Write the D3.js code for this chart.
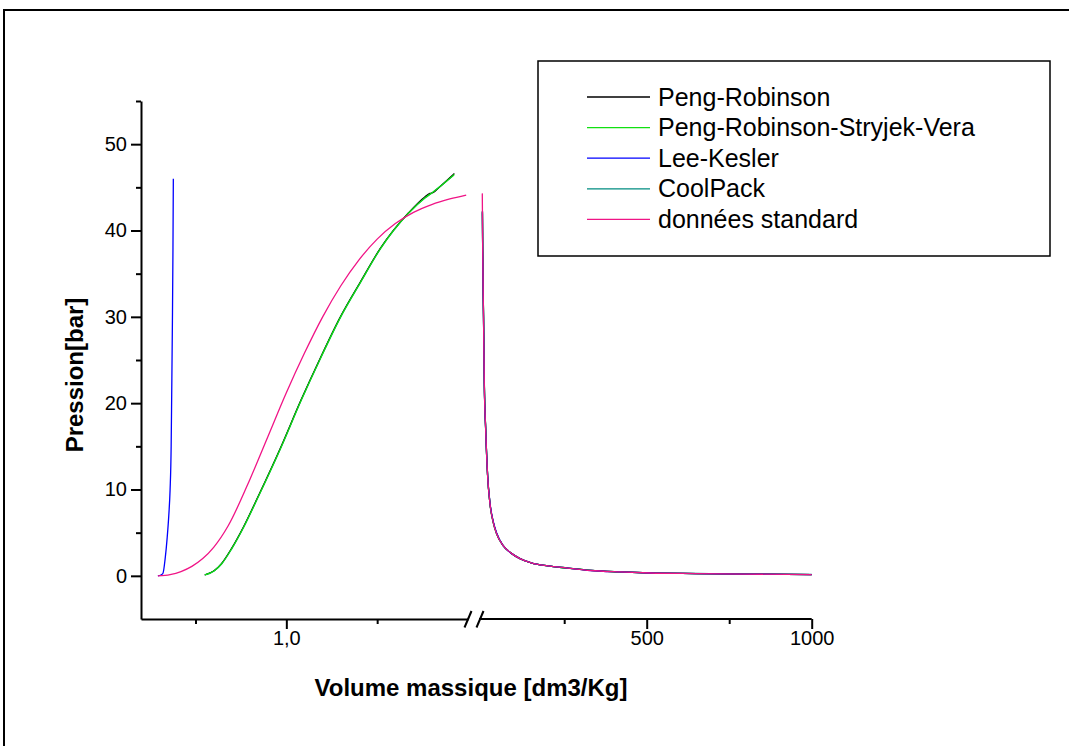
<!DOCTYPE html>
<html>
<head>
<meta charset="utf-8">
<script src="https://cdn.jsdelivr.net/npm/d3@7"></script>
<style>
  body { margin: 0; background: #fff; }
  svg { font-family: Arial, "Liberation Sans", sans-serif; }
</style>
</head>
<body>
<div id="chart"></div>
<script>
// series names + colours (legend order)
const seriesNames = ["Peng-Robinson", "Peng-Robinson-Stryjek-Vera", "Lee-Kesler", "CoolPack", "données standard"];
const seriesColors = ["#000000", "#11e011", "#0000ff", "#008b80", "#f01486"];

// liquid branch (left part of the x axis), volume in dm3/kg, pressure in bar
const prLiqV   = [0.550, 0.602, 0.642, 0.696, 0.762, 0.842, 0.969, 1.079, 1.188, 1.297, 1.406, 1.516, 1.670, 1.762, 1.79, 1.81, 1.842, 1.925];
const prLiqP   = [0.1, 0.6, 1.4, 3.1, 5.6, 9.1, 14.9, 20.3, 25.3, 30.0, 34.0, 37.9, 42.0, 43.9, 44.3, 44.4, 45.0, 46.6];
const prsvLiqV = [0.552, 0.604, 0.644, 0.698, 0.764, 0.844, 0.971, 1.081, 1.19, 1.299, 1.408, 1.518, 1.672, 1.764, 1.81, 1.846, 1.925];
const prsvLiqP = [0.1, 0.6, 1.4, 3.1, 5.6, 9.1, 14.9, 20.3, 25.3, 30.0, 34.0, 37.9, 42.0, 43.8, 44.5, 45.1, 46.5];
const cpLiqV   = [0.552, 0.604, 0.644, 0.698, 0.764, 0.844, 0.971, 1.081, 1.19, 1.299, 1.408, 1.518, 1.672, 1.764, 1.81, 1.846, 1.92];
const cpLiqP   = [0.1, 0.6, 1.4, 3.1, 5.6, 9.1, 14.9, 20.3, 25.3, 30.0, 34.0, 37.9, 42.0, 43.8, 44.5, 45.1, 46.4];
const lkLiqV   = [0.293, 0.31, 0.321, 0.333, 0.344, 0.353, 0.36, 0.366, 0.369, 0.373, 0.376, 0.378];
const lkLiqP   = [0, 0.1, 0.3, 2.0, 4.4, 7.0, 9.9, 15.0, 21.0, 29.6, 38.0, 46.0];
const stdLiqV  = [0.293, 0.36, 0.42, 0.48, 0.54, 0.60, 0.68, 0.80, 0.90, 1.00, 1.10, 1.20, 1.30, 1.40, 1.50, 1.60, 1.70, 1.80, 1.90, 1.99];
const stdLiqP  = [0, 0.15, 0.5, 1.1, 2.0, 3.3, 5.8, 11.2, 16.2, 21.2, 25.8, 30.0, 33.6, 36.6, 39.0, 40.8, 42.1, 43.0, 43.65, 44.1];

// vapour branch (right part of the x axis)
const vapV    = [1.8, 3, 5.5, 8, 12, 18, 25, 35, 45, 65, 90, 116, 150, 200, 260, 330, 420, 510, 650, 800, 1000];
const prVapP  = [42.2, 37.8, 30.2, 22.2, 17.1, 11.6, 8.4, 6.2, 4.9, 3.5, 2.6, 2.0, 1.5, 1.15, 0.9, 0.63, 0.45, 0.33, 0.26, 0.2, 0.15];
const prsvVapP = [42.2, 37.9, 30.3, 22.3, 17.1, 11.6, 8.4, 6.2, 4.9, 3.5, 2.6, 2.0, 1.5, 1.15, 0.9, 0.63, 0.45, 0.33, 0.26, 0.2, 0.15];
const lkVapP  = [42.2, 37.6, 30.0, 22.0, 17.0, 11.6, 8.5, 6.3, 5.0, 3.5, 2.6, 2.0, 1.5, 1.15, 0.9, 0.62, 0.45, 0.33, 0.26, 0.2, 0.15];
const cpVapP  = [42.0, 37.7, 30.1, 22.1, 17.0, 11.5, 8.4, 6.2, 4.9, 3.5, 2.6, 2.0, 1.5, 1.15, 0.9, 0.63, 0.46, 0.34, 0.27, 0.2, 0.16];
const stdVapP = [44.3, 38.0, 30.0, 22.0, 17.0, 11.5, 8.4, 6.2, 4.9, 3.5, 2.6, 2.0, 1.5, 1.15, 0.9, 0.62, 0.45, 0.33, 0.26, 0.2, 0.15];

// axis ticks
const yMajor = [0, 10, 20, 30, 40, 50];
const yMinor = [5, 15, 25, 35, 45, 55];
const xLeftTicks = [0.5, 1.0, 1.5];
const xLeftLabels = {1.0: "1,0"};
const xRightTicks = [250, 500, 750, 1000];
const xRightLabels = {500: "500", 1000: "1000"};

const W = 1069, H = 746;
const svg = d3.select("#chart").append("svg").attr("width", W).attr("height", H);

// outer frame
svg.append("rect").attr("x", 4).attr("y", 10).attr("width", 1100).attr("height", 800)
    .attr("fill", "none").attr("stroke", "#000").attr("stroke-width", 2);

let y = d3.scaleLinear().domain([-5, 55]).range([619, 101]);
let xL = d3.scaleLinear().domain([0.2, 2.0]).range([141, 468]);
let xR = d3.scaleLinear().domain([0, 1000]).range([481.7, 811.7]);

// y axis
let yAxisG = svg.append("g").attr("transform", "translate(141,0)");
yAxisG.call(d3.axisLeft(y).tickValues(yMajor).tickSize(10).tickSizeOuter(0).tickPadding(4));
yAxisG.append("g").call(d3.axisLeft(y).tickValues(yMinor).tickSize(5).tickFormat(""))
    .select(".domain").remove();
yAxisG.selectAll("text").style("font-size", "20px").attr("fill", "#000");
yAxisG.selectAll("line, path").attr("stroke-width", 2);

// x axis, left (liquid) part
let xLG = svg.append("g").attr("transform", "translate(0,619)");
xLG.call(d3.axisBottom(xL).tickValues(xLeftTicks).tickSizeOuter(0)
    .tickFormat(d => xLeftLabels[d] || "").tickPadding(6));
xLG.selectAll(".tick line").attr("y2", d => xLeftLabels[d] ? 10 : 5);

// x axis, right (vapour) part
let xRG = svg.append("g").attr("transform", "translate(0,619)");
xRG.call(d3.axisBottom(xR).tickValues(xRightTicks).tickSizeOuter(0)
    .tickFormat(d => xRightLabels[d] || "").tickPadding(6));
xRG.selectAll(".tick line").attr("y2", d => xRightLabels[d] ? 10 : 5);
xRG.select(".domain").attr("d", `M479,0H${xR.range()[1]}`);

[xLG, xRG].forEach(g => {
    g.selectAll("text").style("font-size", "20px").attr("fill", "#000");
    g.selectAll("line, path").attr("stroke-width", 2);
});

// axis break marks
[xL.range()[1], xR.range()[0] - 1.7].forEach(bx => {
    svg.append("line")
        .attr("x1", bx - 3.5).attr("y1", 627.5).attr("x2", bx + 3.5).attr("y2", 611)
        .attr("stroke", "#000").attr("stroke-width", 2);
});

// curves
const curves = [
    {i: 3, liq: d3.zip(cpLiqV, cpLiqP), vap: d3.zip(vapV.map((v, k) => k == 0 ? 2.2 : v), cpVapP)},
    {i: 0, liq: d3.zip(prLiqV, prLiqP), vap: d3.zip(vapV.map((v, k) => k == 0 ? 2.2 : v), prVapP)},
    {i: 1, liq: d3.zip(prsvLiqV, prsvLiqP), vap: d3.zip(vapV.map((v, k) => k == 0 ? 2.2 : v), prsvVapP)},
    {i: 2, liq: d3.zip(lkLiqV, lkLiqP), vap: d3.zip(vapV.map((v, k) => k == 0 ? 2.2 : v), lkVapP)},
    {i: 4, liq: d3.zip(stdLiqV, stdLiqP), vap: d3.zip(vapV, stdVapP)}
];

let lineL = d3.line().x(d => xL(d[0])).y(d => y(d[1])).curve(d3.curveMonotoneX);
let lineR = d3.line().x(d => xR(d[0])).y(d => y(d[1])).curve(d3.curveMonotoneX);

let plot = svg.append("g");
curves.forEach(c => {
    plot.append("path").attr("d", lineL(c.liq))
        .attr("fill", "none").attr("stroke", seriesColors[c.i]).attr("stroke-width", c.i == 0 ? 1.1 : 1.3);
    plot.append("path").attr("d", lineR(c.vap))
        .attr("fill", "none").attr("stroke", seriesColors[c.i]).attr("stroke-width", 1.3);
});

// legend
let legend = svg.append("g");
legend.append("rect").attr("x", 538).attr("y", 61).attr("width", 512).attr("height", 195)
    .attr("fill", "#fff").attr("stroke", "#000").attr("stroke-width", 1.5);
seriesNames.forEach((name, i) => {
    let ly = 97 + i * 30.6;
    legend.append("line").attr("x1", 587).attr("x2", 650).attr("y1", ly).attr("y2", ly)
        .attr("stroke", seriesColors[i]).attr("stroke-width", 1.3);
    legend.append("text").attr("x", 658).attr("y", ly + 8.5)
        .style("font-size", "25px").text(name);
});

// axis titles
svg.append("text")
    .attr("transform", "translate(83,375) rotate(-90)")
    .style("text-anchor", "middle").style("font-size", "24px").style("font-weight", "bold")
    .text("Pression[bar]");

svg.append("text")
    .attr("x", 471).attr("y", 696)
    .style("text-anchor", "middle").style("font-size", "24px").style("font-weight", "bold")
    .text("Volume massique [dm3/Kg]");
</script>
</body>
</html>
